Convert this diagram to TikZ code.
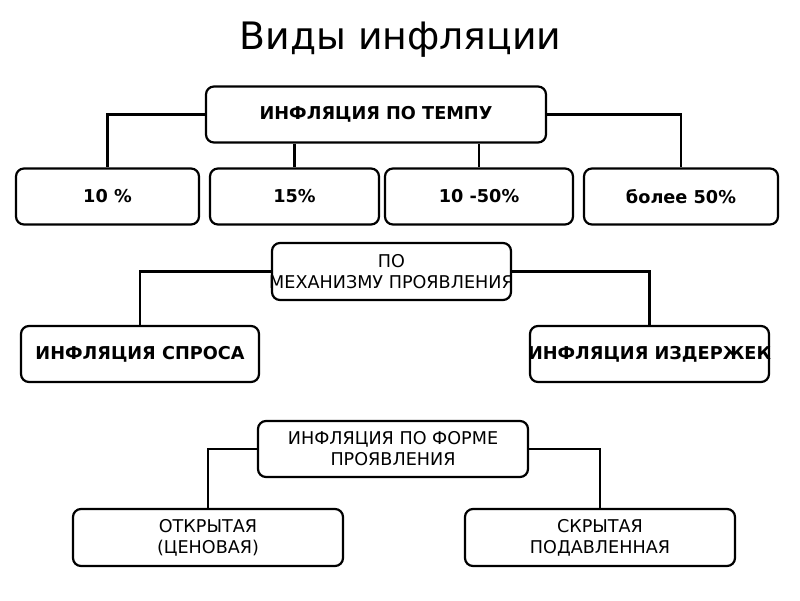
\documentclass[tikz,border=0pt]{standalone}
\usepackage{fontspec}
\setmainfont{DejaVu Sans}
\usepackage{tikz}

\tikzset{
	kasten/.style={draw, line width=2.2pt, rounded corners=8pt, minimum width=#1,
		minimum height=56pt, inner sep=0pt, align=center,
		font=\fontsize{17.6}{21}\selectfont},
	kasten/.default=180pt,
	fett/.style={font=\fontsize{17.7}{21}\selectfont\bfseries},
	linie/.style={line width=2.2pt},
}

\begin{document}
\begin{tikzpicture}[x=1pt,y=-1pt]
			% Rahmen
			\useasboundingbox (0,0) rectangle (800,600);
			
			% Ueberschrift
			\node[anchor=base] (titel) at (400.5,49) {\fontsize{37.8}{40}\selectfont Виды инфляции};
			
			% nach Tempo
			\node[kasten=340pt, fett] (tempo) at (376,114.5) {ИНФЛЯЦИЯ ПО ТЕМПУ};
			\node[kasten=183pt, fett] (p10) at (107.5,196.5) {10 \%};
			\node[kasten=169pt, fett] (p15) at (294.5,196.5) {15\%};
			\node[kasten=188pt, fett] (p1050) at (479,196.5) {10 -50\%};
			\node[kasten=194pt, fett] (p50) at (681,196.5) {более 50\%};
			
			% nach Mechanismus
			\node[kasten=239pt, minimum height=57pt] (mech) at (391.5,271.5) {ПО\\\makebox[0pt]{МЕХАНИЗМУ ПРОЯВЛЕНИЯ}};
			\node[kasten=238pt, fett] (spros) at (140,354) {ИНФЛЯЦИЯ СПРОСА};
			\node[kasten=239pt, fett] (izd) at (649.5,354) {\makebox[0pt]{ИНФЛЯЦИЯ ИЗДЕРЖЕК}};
			
			% nach Form
			\node[kasten=270pt] (form) at (393,449) {ИНФЛЯЦИЯ ПО ФОРМЕ\\ПРОЯВЛЕНИЯ};
			\node[kasten=270pt, minimum height=57pt] (otkr) at (208,537.5) {ОТКРЫТАЯ\\(ЦЕНОВАЯ)};
			\node[kasten=270pt, minimum height=57pt] (skryt) at (600,537.5) {СКРЫТАЯ\\ПОДАВЛЕННАЯ};
			
			% Verbindungen
			\draw[linie] (tempo.west) -| (p10.north);
			\draw[linie] (tempo.east) -| (p50.north);
			\draw[linie] (tempo.south -| p15.north) -- (p15.north);
			\draw[linie] (tempo.south -| p1050.north) -- (p1050.north);
			\draw[linie] (mech.west) -| (spros.north);
			\draw[linie] (mech.east) -| (izd.north);
			\draw[linie] (form.west) -| (otkr.north);
			\draw[linie] (form.east) -| (skryt.north);
\end{tikzpicture}
\end{document}
